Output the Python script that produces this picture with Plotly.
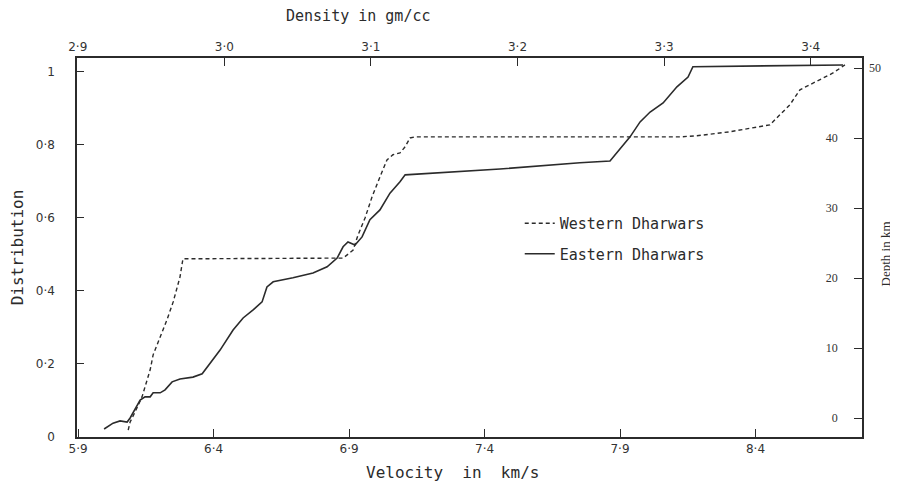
import plotly.graph_objects as go

# ---- data ----
velocity_east = [5.996, 6.029, 6.055, 6.081, 6.092, 6.110, 6.129, 6.147, 6.166, 6.177,
                 6.203, 6.221, 6.247, 6.276, 6.324, 6.358, 6.387, 6.424, 6.472, 6.509,
                 6.546, 6.579, 6.597, 6.620, 6.693, 6.767, 6.819, 6.856, 6.878, 6.896,
                 6.922, 6.948, 6.977, 7.014, 7.051, 7.088, 7.107, 7.457, 7.752, 7.863,
                 7.937, 7.974, 8.011, 8.059, 8.110, 8.151, 8.169, 8.649, 8.723]
dist_east = [0.022, 0.038, 0.044, 0.041, 0.052, 0.074, 0.101, 0.110, 0.110, 0.121,
             0.121, 0.129, 0.151, 0.159, 0.164, 0.173, 0.203, 0.238, 0.293, 0.326,
             0.348, 0.370, 0.411, 0.425, 0.436, 0.449, 0.466, 0.490, 0.521, 0.534,
             0.526, 0.548, 0.595, 0.622, 0.668, 0.699, 0.718, 0.734, 0.751, 0.756,
             0.822, 0.863, 0.890, 0.915, 0.959, 0.986, 1.014, 1.019, 1.019]

velocity_west = [6.085, 6.092, 6.110, 6.136, 6.166, 6.177, 6.203, 6.228, 6.251, 6.276,
                 6.287, 6.867, 6.878, 6.915, 6.933, 6.959, 6.985, 7.014, 7.040, 7.062,
                 7.088, 7.107, 7.125, 7.144, 7.752, 8.121, 8.184, 8.306, 8.453, 8.490,
                 8.527, 8.564, 8.612, 8.686, 8.730]
dist_west = [0.019, 0.041, 0.068, 0.110, 0.184, 0.225, 0.274, 0.321, 0.370, 0.438,
             0.488, 0.490, 0.490, 0.512, 0.553, 0.600, 0.658, 0.712, 0.759, 0.773,
             0.778, 0.795, 0.819, 0.822, 0.822, 0.822, 0.825, 0.836, 0.855, 0.882,
             0.910, 0.951, 0.970, 0.997, 1.019]

vel_ticks = [5.9, 6.4, 6.9, 7.4, 7.9, 8.4]
vel_ticktext = ["5·9", "6·4", "6·9", "7·4", "7·9", "8·4"]
dist_ticks = [0, 0.2, 0.4, 0.6, 0.8, 1.0]
dist_ticktext = ["0", "0·2", "0·4", "0·6", "0·8", "1"]
dens_ticks = [2.9, 3.0, 3.1, 3.2, 3.3, 3.4]
dens_ticktext = ["2·9", "3·0", "3·1", "3·2", "3·3", "3·4"]
depth_ticks = [0, 10, 20, 30, 40, 50]
depth_ticktext = ["0", "10", "20", "30", "40", ""]   # "50" is written outside the axis
depth_top_label = "50"

INK = "#2b2b2b"
SANS = "DejaVu Sans"
MONO = "DejaVu Sans Mono"
SERIF = "Liberation Serif"

fig = go.Figure()
fig.add_trace(go.Scatter(x=velocity_west, y=dist_west, mode="lines",
                         name="Western Dharwars", legendgroup="w",
                         line=dict(color=INK, width=1.4, dash="4px,3px")))
fig.add_trace(go.Scatter(x=velocity_east, y=dist_east, mode="lines",
                         name="Eastern Dharwars", legendgroup="e",
                         line=dict(color=INK, width=1.6)))
# empty trace to activate the density / depth axes
fig.add_trace(go.Scatter(x=[], y=[], xaxis="x2", yaxis="y2", showlegend=False,
                         hoverinfo="skip"))

axis_common = dict(showline=True, linecolor=INK, linewidth=1.5, ticks="inside",
                   tickcolor=INK, tickwidth=1.3, showgrid=False, zeroline=False,
                   tickmode="array", automargin=False)

fig.update_layout(
    width=890, height=478,
    margin=dict(l=69, r=36, t=50, b=49),
    paper_bgcolor="white", plot_bgcolor="white",
    font=dict(family=SANS, color=INK, size=12),
    xaxis=dict(axis_common, range=[5.896, 8.793], tickvals=vel_ticks,
               ticktext=vel_ticktext, ticklen=8,
               tickfont=dict(family=SANS, size=12, color="#333")),
    yaxis=dict(axis_common, range=[0, 1.038], tickvals=dist_ticks,
               ticktext=dist_ticktext, ticklen=7, ticklabelstandoff=18,
               tickfont=dict(family=SANS, size=12, color="#333"),
               title=dict(text="Distribution", standoff=10,
                          font=dict(family=MONO, size=16, color=INK))),
    xaxis2=dict(axis_common, overlaying="x", side="top", anchor="y",
                range=[2.8995, 3.435], tickvals=dens_ticks,
                ticktext=dens_ticktext, ticklen=8,
                tickfont=dict(family=SANS, size=12, color="#333")),
    yaxis2=dict(axis_common, overlaying="y", side="right", anchor="x",
                range=[-2.714, 51.43], tickvals=depth_ticks,
                ticktext=depth_ticktext, ticklen=8,
                ticklabelposition="inside", ticklabelstandoff=16,
                tickfont=dict(family=SERIF, size=12, color="#333")),
    showlegend=True,
    legend=dict(x=0.564, y=0.607, xanchor="left", yanchor="top",
                bgcolor="rgba(0,0,0,0)", tracegroupgap=8,
                font=dict(family=MONO, size=15, color=INK)),
    annotations=[
        dict(text="Density in gm/cc", xref="paper", yref="paper",
             x=0.358, y=1.0, yshift=42, xanchor="center", yanchor="middle",
             showarrow=False, font=dict(family=MONO, size=15, color=INK)),
        dict(text="Velocity  in  km/s", xref="paper", yref="paper",
             x=0.478, y=0.0, yshift=-35, xanchor="center", yanchor="middle",
             showarrow=False, font=dict(family=MONO, size=16, color=INK)),
        dict(text="Depth in km", xref="paper", yref="paper",
             x=1.0, xshift=23, y=0.5, yshift=-7, textangle=-90,
             xanchor="center", yanchor="middle", showarrow=False,
             font=dict(family=SERIF, size=13, color=INK)),
        dict(text=depth_top_label, xref="paper", yref="y2",
             x=1.0, xshift=13, y=depth_ticks[-1], xanchor="center",
             yanchor="middle", showarrow=False,
             font=dict(family=SERIF, size=12, color="#333")),
    ],
)

fig.write_html("out.html")
